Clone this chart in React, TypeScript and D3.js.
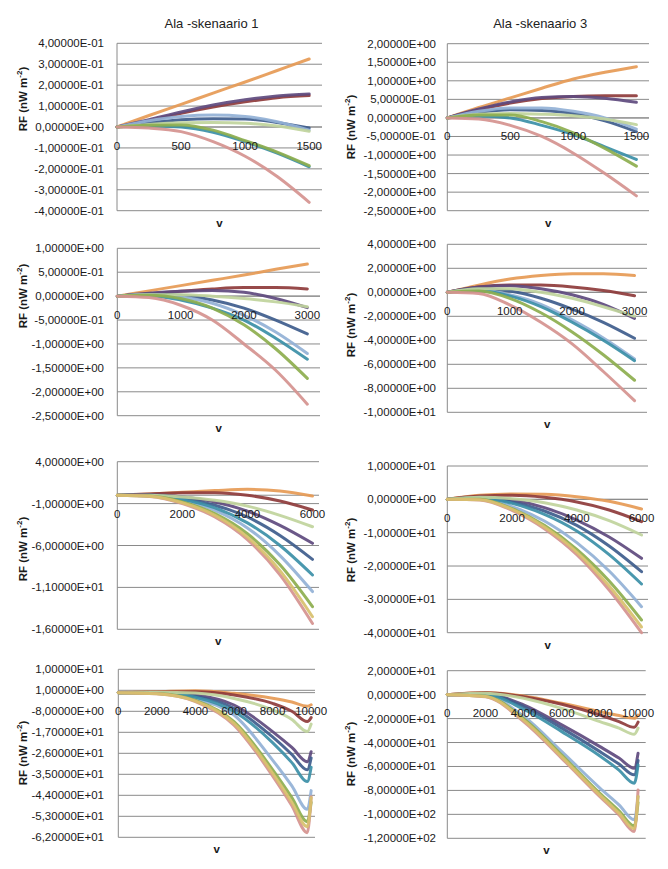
import React from "react";
import * as d3 from "d3";

// ---------- DATA ----------
const seriesNames = ["S1", "S2", "S3", "S4", "S5", "S6", "S7", "S8", "S9", "S10"];

const titles = ["Ala -skenaario 1", "Ala -skenaario 3"];

// Panel 1 (row 1, left)
const p1X = [0, 250, 500, 750, 1000, 1250, 1500];
const p1Values = [
  [0, 0.055, 0.108, 0.162, 0.215, 0.27, 0.325],
  [0, 0.03, 0.065, 0.095, 0.12, 0.14, 0.15],
  [0, 0.035, 0.072, 0.105, 0.13, 0.148, 0.158],
  [0, 0.02, 0.035, 0.04, 0.038, 0.022, -0.005],
  [0, 0.03, 0.05, 0.057, 0.05, 0.025, -0.015],
  [0, 0.005, 0.0, -0.025, -0.07, -0.125, -0.19],
  [0, 0.012, 0.02, 0.022, 0.018, 0.005, -0.02],
  [0, 0.008, 0.01, -0.015, -0.065, -0.12, -0.185],
  [0, -0.005, -0.022, -0.07, -0.14, -0.237, -0.36],
];
const p1YTicks = [0.4, 0.3, 0.2, 0.1, 0, -0.1, -0.2, -0.3, -0.4];
const p1XTicks = [0, 500, 1000, 1500];

// Panel 2 (row 1, right)
const p2X = [0, 250, 500, 750, 1000, 1250, 1500];
const p2Values = [
  [0, 0.28, 0.54, 0.8, 1.05, 1.23, 1.38],
  [0, 0.22, 0.4, 0.52, 0.58, 0.6, 0.6],
  [0, 0.24, 0.43, 0.55, 0.58, 0.53, 0.42],
  [0, 0.15, 0.22, 0.2, 0.12, -0.08, -0.37],
  [0, 0.18, 0.27, 0.27, 0.18, 0.0, -0.3],
  [0, 0.05, 0.0, -0.2, -0.45, -0.78, -1.12],
  [0, 0.1, 0.12, 0.1, 0.06, -0.03, -0.18],
  [0, 0.08, 0.08, -0.1, -0.4, -0.82, -1.3],
  [0, -0.03, -0.2, -0.5, -0.95, -1.5, -2.1],
];
const p2YTicks = [2, 1.5, 1, 0.5, 0, -0.5, -1, -1.5, -2, -2.5];
const p2XTicks = [0, 500, 1000, 1500];

// Panel 3 (row 2, left)
const p3X = [0, 500, 1000, 1500, 2000, 2500, 3000];
const p3Values = [
  [0, 0.11, 0.22, 0.33, 0.44, 0.56, 0.67],
  [0, 0.05, 0.1, 0.15, 0.18, 0.18, 0.15],
  [0, 0.06, 0.1, 0.12, 0.08, -0.05, -0.24],
  [0, 0.04, 0.02, -0.08, -0.25, -0.5, -0.79],
  [0, 0.03, -0.02, -0.15, -0.4, -0.75, -1.2],
  [0, 0.01, -0.08, -0.25, -0.5, -0.88, -1.32],
  [0, 0.03, 0.03, 0.0, -0.05, -0.12, -0.22],
  [0, 0.02, -0.05, -0.25, -0.6, -1.1, -1.72],
  [0, -0.03, -0.19, -0.5, -1.0, -1.55, -2.26],
];
const p3YTicks = [1, 0.5, 0, -0.5, -1, -1.5, -2, -2.5];
const p3XTicks = [0, 1000, 2000, 3000];

// Panel 4 (row 2, right)
const p4X = [0, 500, 1000, 1500, 2000, 2500, 3000];
const p4Values = [
  [0, 0.6, 1.1, 1.4, 1.55, 1.55, 1.4],
  [0, 0.45, 0.6, 0.6, 0.45, 0.15, -0.28],
  [0, 0.45, 0.55, 0.3, -0.2, -1.0, -2.17],
  [0, 0.3, 0.1, -0.5, -1.4, -2.5, -3.83],
  [0, 0.2, -0.2, -1.0, -2.3, -3.8, -5.55],
  [0, 0.15, -0.3, -1.2, -2.5, -4.0, -5.7],
  [0, 0.3, 0.3, 0.0, -0.5, -1.2, -2.0],
  [0, 0.1, -0.5, -1.7, -3.3, -5.2, -7.33],
  [0, -0.1, -1.05, -2.5, -4.3, -6.6, -9.03],
];
const p4YTicks = [4, 2, 0, -2, -4, -6, -8, -10];
const p4XTicks = [0, 1000, 2000, 3000];

// Panel 5 (row 3, left)
const p5X = [0, 1000, 2000, 3000, 4000, 5000, 6000];
const p5Values = [
  [0, 0.15, 0.35, 0.55, 0.7, 0.5, -0.1],
  [0, 0.15, 0.3, 0.3, 0.0, -0.7, -1.77],
  [0, 0.05, -0.2, -0.8, -1.9, -3.6, -5.74],
  [0, 0.0, -0.35, -1.2, -2.6, -4.8, -7.65],
  [0, -0.05, -0.6, -1.8, -3.9, -7.2, -11.5],
  [0, -0.05, -0.5, -1.5, -3.3, -6.0, -9.52],
  [0, 0.0, -0.2, -0.6, -1.3, -2.4, -3.76],
  [0, -0.1, -0.8, -2.2, -4.6, -8.3, -13.3],
  [0, -0.15, -1.0, -2.6, -5.3, -9.5, -15.3],
  [0, -0.12, -0.9, -2.4, -5.0, -9.0, -14.5],
];
const p5YTicks = [4, -1, -6, -11, -16];
const p5XTicks = [0, 2000, 4000, 6000];

// Panel 6 (row 3, right)
const p6X = [0, 1000, 2000, 3000, 4000, 5000, 6000];
const p6Values = [
  [0, 1.2, 1.6, 1.5, 0.8, -0.6, -2.9],
  [0, 1.0, 1.2, 0.6, -0.8, -3.2, -6.7],
  [0, 0.6, -0.2, -2.5, -6.2, -11.3, -17.7],
  [0, 0.4, -0.8, -3.5, -7.8, -14.0, -21.7],
  [0, 0.1, -2.2, -6.5, -13.0, -21.5, -32.2],
  [0, 0.3, -1.2, -4.5, -9.5, -16.6, -25.4],
  [0, 0.6, 0.2, -1.0, -3.2, -6.4, -10.7],
  [0, 0.0, -2.8, -7.8, -15.0, -24.5, -36.2],
  [0, -0.2, -3.3, -8.8, -16.6, -27.2, -40],
  [0, -0.1, -3.0, -8.3, -15.8, -26.0, -38.3],
];
const p6YTicks = [10, 0, -10, -20, -30, -40];
const p6XTicks = [0, 2000, 4000, 6000];

// Panel 7 (row 4, left)
const p7X = [0, 2000, 4000, 6000, 8000, 9000, 9800, 10000];
const p7Values = [
  [0, 0.4, 0.8, -0.3, -2.4, -4.0, -5.8, -5.2],
  [0, 0.3, 0.4, -1.0, -4.6, -8.0, -12.4, -10.7],
  [0, 0.1, -1.0, -5.3, -16.7, -23.5, -29.6, -25.3],
  [0, 0.0, -1.5, -6.7, -19.0, -26.5, -33.1, -28],
  [0, -0.3, -2.8, -9.6, -28.9, -40.0, -50.0, -42],
  [0, -0.1, -2.0, -8.1, -21.4, -30.0, -38.1, -32],
  [0, 0.2, -0.2, -2.5, -7.4, -11.5, -16.7, -13.5],
  [0, -0.4, -3.3, -12.4, -33.0, -45.0, -55.3, -47],
  [0, -0.5, -3.8, -13.9, -35.7, -48.5, -60.0, -44.6],
  [0, -0.45, -3.6, -13.2, -34.5, -47.0, -57.5, -45],
];
const p7YTicks = [10, 1, -8, -17, -26, -35, -44, -53, -62];
const p7XTicks = [0, 2000, 4000, 6000, 8000, 10000];

// Panel 8 (row 4, right)
const p8X = [0, 2000, 4000, 6000, 8000, 9000, 9800, 10000];
const p8Values = [
  [0, 1.7, -1.1, -7.2, -14.2, -17.5, -19.8, -17],
  [0, 1.5, -1.7, -8.0, -17.0, -22.5, -27.3, -23],
  [0, 0.5, -8.6, -25.3, -43.4, -53.0, -61.5, -49],
  [0, 0.2, -10.0, -28.0, -47.6, -58.0, -67.0, -55],
  [0, -1.0, -18.0, -47.6, -78.0, -92.0, -104.5, -85],
  [0, 0.0, -12.2, -30.9, -51.2, -63.0, -74.0, -58.7],
  [0, 1.2, -3.0, -11.5, -22.5, -28.0, -33.1, -28],
  [0, -1.3, -20.0, -50.5, -82.4, -97.0, -109.7, -90],
  [0, -1.7, -22.5, -53.2, -85.2, -100.5, -114.4, -79.6],
  [0, -1.5, -21.3, -52.0, -84.0, -99.0, -112.0, -85],
];
const p8YTicks = [20, 0, -20, -40, -60, -80, -100, -120];
const p8XTicks = [0, 2000, 4000, 6000, 8000, 10000];

// ---------- STYLE / LAYOUT ----------
const seriesColors = [
  "#E69A55", // orange
  "#8E3B3B", // dark red
  "#5E4A7E", // purple
  "#3E5C8C", // dark blue
  "#93B1D6", // light blue
  "#3B8FA7", // teal
  "#C0D49C", // light green
  "#8DAE4E", // green
  "#D5938F", // pink
  "#D8C06C", // gold
];

type Layout = {
  L: number; R: number; T: number; B: number; xMax: number;
  yTitleX: number; yTitleCY: number; labelX: number; title?: string;
};

const layouts: Layout[] = [
  { L: 117, R: 322, T: 43.3, B: 210.7, xMax: 1600, yTitleX: 23, yTitleCY: 99, labelX: 104, title: titles[0] },
  { L: 447.3, R: 649, T: 43.7, B: 210.7, xMax: 1600, yTitleX: 351, yTitleCY: 127, labelX: 436, title: titles[1] },
  { L: 117.3, R: 320, T: 248.3, B: 415.7, xMax: 3200, yTitleX: 23, yTitleCY: 296, labelX: 104 },
  { L: 447.3, R: 647, T: 244.3, B: 412.3, xMax: 3200, yTitleX: 351, yTitleCY: 325, labelX: 436 },
  { L: 117.3, R: 319, T: 461.7, B: 629.3, xMax: 6200, yTitleX: 23, yTitleCY: 549, labelX: 104 },
  { L: 447.3, R: 648, T: 466, B: 632.7, xMax: 6200, yTitleX: 351, yTitleCY: 550, labelX: 436 },
  { L: 118.3, R: 315, T: 669.3, B: 837.3, xMax: 10200, yTitleX: 23, yTitleCY: 753, labelX: 104 },
  { L: 447.3, R: 645.7, T: 670.7, B: 838.3, xMax: 10400, yTitleX: 351, yTitleCY: 754, labelX: 436 },
];

const panelData = [
  { x: p1X, values: p1Values, yTicks: p1YTicks, xTicks: p1XTicks },
  { x: p2X, values: p2Values, yTicks: p2YTicks, xTicks: p2XTicks },
  { x: p3X, values: p3Values, yTicks: p3YTicks, xTicks: p3XTicks },
  { x: p4X, values: p4Values, yTicks: p4YTicks, xTicks: p4XTicks },
  { x: p5X, values: p5Values, yTicks: p5YTicks, xTicks: p5XTicks },
  { x: p6X, values: p6Values, yTicks: p6YTicks, xTicks: p6XTicks },
  { x: p7X, values: p7Values, yTicks: p7YTicks, xTicks: p7XTicks },
  { x: p8X, values: p8Values, yTicks: p8YTicks, xTicks: p8XTicks },
];

const FONT = "'Liberation Sans', Arial, sans-serif";
const GRID = "#8a8a8a";

function sci(v: number): string {
  if (Math.abs(v) < 1e-12) return "0,00000E+00";
  let e = Math.floor(Math.log10(Math.abs(v)) + 1e-12);
  let m = v / Math.pow(10, e);
  if (Math.abs(m) >= 9.999995) { m /= 10; e += 1; }
  const ms = m.toFixed(5).replace(".", ",");
  return ms + "E" + (e < 0 ? "-" : "+") + String(Math.abs(e)).padStart(2, "0");
}

function Panel({ lay, data }: { lay: Layout; data: typeof panelData[number] }) {
  const yDom = [data.yTicks[data.yTicks.length - 1], data.yTicks[0]];
  const x = d3.scaleLinear().domain([0, lay.xMax]).range([lay.L, lay.R]);
  const y = d3.scaleLinear().domain(yDom).range([lay.B, lay.T]);
  const y0 = y(0);
  const line = d3
    .line<[number, number]>()
    .x((d) => x(d[0]))
    .y((d) => y(d[1]))
    .curve(d3.curveMonotoneX);
  const cx = (lay.L + lay.R) / 2;
  return (
    <g>
      {lay.title && (
        <text x={cx - 8} y={25} textAnchor="middle" dominantBaseline="middle"
          fontFamily={FONT} fontSize={13} fill="#222">{lay.title}</text>
      )}
      {data.yTicks.map((t, i) => (
        <g key={"yt" + i}>
          <line x1={lay.L} x2={lay.R} y1={y(t)} y2={y(t)} stroke={GRID} strokeWidth={1} />
          <text x={lay.labelX} y={y(t)} textAnchor="end" dominantBaseline="central"
            fontFamily={FONT} fontSize={11.5} fill="#1a1a1a">{sci(t)}</text>
        </g>
      ))}
      <line x1={lay.L} x2={lay.L} y1={lay.T} y2={lay.B} stroke={GRID} strokeWidth={1} />
      <line x1={lay.L} x2={lay.R} y1={y0} y2={y0} stroke={GRID} strokeWidth={1} />
      {data.values.map((vals, si) => (
        <path key={seriesNames[si]}
          d={line(vals.map((v, i) => [data.x[i], v] as [number, number])) || ""}
          fill="none" stroke={seriesColors[si]} strokeWidth={3}
          strokeLinecap="round" strokeLinejoin="round" strokeOpacity={0.92} />
      ))}
      {data.xTicks.map((t, i) => (
        <text key={"xt" + i} x={x(t)} y={y0 + 18.5} textAnchor="middle" dominantBaseline="central"
          fontFamily={FONT} fontSize={11.5} fill="#1a1a1a">{t}</text>
      ))}
      <text x={cx} y={lay.B + 12} textAnchor="middle" dominantBaseline="central"
        fontFamily={FONT} fontSize={11.5} fontWeight="bold" fill="#1a1a1a">v</text>
      <text transform={`translate(${lay.yTitleX},${lay.yTitleCY}) rotate(-90)`} textAnchor="middle"
        dominantBaseline="central" fontFamily={FONT} fontSize={11.5} fontWeight="bold" fill="#1a1a1a">
        RF (nW m<tspan dy={-4} fontSize={8}>-2</tspan><tspan dy={4}>)</tspan>
      </text>
    </g>
  );
}

export default function App() {
  return (
    <svg width={668} height={869} style={{ position: "absolute", left: 0, top: 0, background: "#fff" }}>
      <rect x={0} y={0} width={668} height={869} fill="#fff" />
      {layouts.map((lay, i) => (
        <Panel key={i} lay={lay} data={panelData[i]} />
      ))}
    </svg>
  );
}
